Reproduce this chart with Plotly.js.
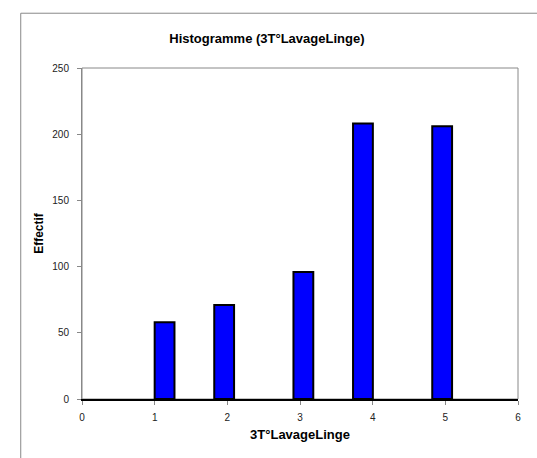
<!DOCTYPE html>
<html>
<head>
<meta charset="utf-8">
<script src="https://cdn.plot.ly/plotly-3.0.1.min.js"></script>
<style>html,body{margin:0;padding:0;background:#fff;}#chart{width:537px;height:458px;}</style>
</head>
<body>
<div id="chart"></div>
<script>
// Histogram bins (left edge) and counts
const binStart = [1.0, 1.82, 2.91, 3.73, 4.82];
const binWidth = 0.2727;
const counts = [58, 71, 96, 208, 206];
const xTicks = [0, 1, 2, 3, 4, 5, 6];
const yTicks = [0, 50, 100, 150, 200, 250];

const tickFont = {family: 'Liberation Sans, Arial, sans-serif', size: 10, color: '#222'};
const titleFont = {family: 'Liberation Sans, Arial, sans-serif', size: 13, color: '#000', weight: 'bold'};

const trace = {
  type: 'bar',
  x: binStart,
  y: counts,
  width: binStart.map(() => binWidth),
  offset: 0,
  marker: {color: '#0000FF', line: {color: '#000000', width: 2}},
  hoverinfo: 'x+y'
};

const layout = {
  width: 537,
  height: 458,
  margin: {l: 82, r: 19, t: 68, b: 59},
  paper_bgcolor: '#ffffff',
  plot_bgcolor: '#ffffff',
  showlegend: false,
  title: {text: '<b>Histogramme (3T°LavageLinge)</b>', x: 0.497, xanchor: 'center', y: 0.917, yanchor: 'middle', font: titleFont},
  xaxis: {
    range: [0, 6], tickvals: xTicks, ticktext: xTicks.map(String),
    showgrid: false, zeroline: false,
    showline: true, linecolor: '#000000', linewidth: 2,
    ticks: 'outside', ticklen: 4, tickcolor: '#888888', tickwidth: 1,
    tickfont: tickFont, ticklabelstandoff: 4,
    title: {text: '<b>3T°LavageLinge</b>', font: {family: 'Liberation Sans, Arial, sans-serif', size: 13, color: '#000'}, standoff: 8}
  },
  yaxis: {
    range: [0, 250], tickvals: yTicks, ticktext: yTicks.map(String),
    showgrid: false, zeroline: false,
    showline: true, linecolor: '#888888', linewidth: 1,
    ticks: 'outside', ticklen: 4, tickcolor: '#888888', tickwidth: 1,
    tickfont: tickFont, ticklabelstandoff: 6,
    title: {text: '<b>Effectif</b>', font: {family: 'Liberation Sans, Arial, sans-serif', size: 12, color: '#000'}, standoff: 6}
  },
  shapes: [
    {type: 'rect', xref: 'x domain', yref: 'y domain', x0: 0, x1: 1, y0: 0, y1: 1, line: {color: '#888888', width: 1}, layer: 'below'},
    {type: 'rect', xref: 'paper', yref: 'paper', x0: -0.1405, x1: 1.2, y0: -0.5, y1: 1.1655, line: {color: '#888888', width: 1}, layer: 'below'}
  ]
};

Plotly.newPlot('chart', [trace], layout, {displayModeBar: false, staticPlot: true});
</script>
</body>
</html>
